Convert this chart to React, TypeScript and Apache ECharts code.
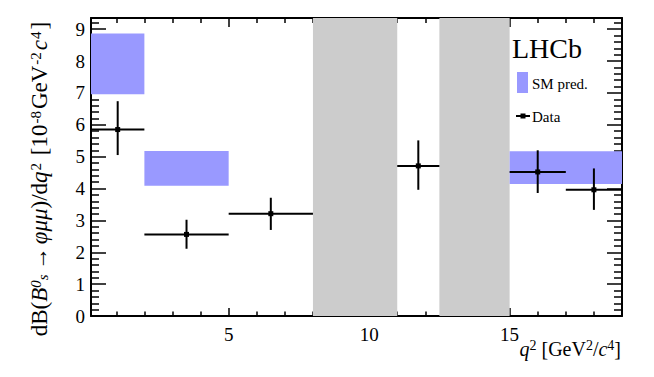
import React, { useEffect, useRef } from "react";
import * as echarts from "echarts";

// ---- data ----
const binLo = [0.1, 2, 5, 11, 15, 17];
const binHi = [2, 5, 8, 12.5, 17, 19];
const binCenter = [1.05, 3.5, 6.5, 11.75, 16, 18];
const dataVal = [5.85, 2.56, 3.21, 4.71, 4.52, 3.96];
const errUp = [0.89, 0.46, 0.5, 0.8, 0.68, 0.67];
const errDown = [0.8, 0.45, 0.51, 0.75, 0.66, 0.63];

const smLo = [0.1, 2, 15];
const smHi = [2, 5, 19];
const smMin = [6.96, 4.09, 4.14];
const smMax = [8.86, 5.18, 5.17];

const vetoLo = [8, 12.5];
const vetoHi = [11, 15];

const xMajorTicks = [5, 10, 15];
const yMajorTicks = [0, 1, 2, 3, 4, 5, 6, 7, 8, 9];

const X_MIN = 0.1;
const X_MAX = 19;
const Y_MIN = 0;
const Y_MAX = 9.35;

const FONT = "'Liberation Serif', 'Times New Roman', serif";

function range(a: number, b: number, step: number): number[] {
  const out: number[] = [];
  for (let v = a; v <= b + 1e-9; v += step) out.push(Math.round(v * 1000) / 1000);
  return out;
}
const xMinorTicks = range(1, 19, 1).filter((v) => v % 5 !== 0);
const yMinorTicks = range(0.2, 9.2, 0.2).filter((v) => Math.abs(v - Math.round(v)) > 1e-6);

const black = "#000";

function xAxisDef(position: "bottom" | "top", ticks: number[], len: number, major: boolean, showLine: boolean) {
  return {
    type: "value",
    position,
    min: X_MIN,
    max: X_MAX,
    axisLine: { show: showLine, onZero: false, lineStyle: { color: black, width: 2 } },
    axisTick: { show: true, inside: true, length: len, customValues: ticks, lineStyle: { color: black, width: 1.5 } },
    axisLabel: {
      show: major && position === "bottom",
      customValues: ticks,
      fontFamily: FONT,
      fontSize: 19,
      color: black,
      margin: 9,
    },
    splitLine: { show: false },
  };
}

function yAxisDef(position: "left" | "right", ticks: number[], len: number, major: boolean, showLine: boolean) {
  return {
    type: "value",
    position,
    min: Y_MIN,
    max: Y_MAX,
    axisLine: { show: showLine, onZero: false, lineStyle: { color: black, width: 2 } },
    axisTick: { show: true, inside: true, length: len, customValues: ticks, lineStyle: { color: black, width: 1.5 } },
    axisLabel: {
      show: major && position === "left",
      customValues: ticks,
      fontFamily: FONT,
      fontSize: 19,
      color: black,
      margin: 6,
    },
    splitLine: { show: false },
  };
}

function makeRich(F: number, S: number, supPad: number[]) {
  return {
    n: { fontFamily: FONT, fontSize: F, lineHeight: 22, verticalAlign: "middle", fill: black, color: black },
    it: { fontFamily: FONT, fontSize: F, fontStyle: "italic", lineHeight: 22, verticalAlign: "middle", fill: black, color: black },
    arr: { fontFamily: FONT, fontSize: F, lineHeight: 22, verticalAlign: "middle", fill: black, color: black, padding: [0, 3, 0, 2] },
    sup: { fontFamily: FONT, fontSize: S, lineHeight: 10, verticalAlign: "top", fill: black, color: black, padding: supPad },
    supi: { fontFamily: FONT, fontSize: S, fontStyle: "italic", lineHeight: 10, verticalAlign: "top", fill: black, color: black },
    sub: { fontFamily: FONT, fontSize: S, fontStyle: "italic", lineHeight: 8, verticalAlign: "bottom", fill: black, color: black, padding: [0, 2, 0, 0] },
  };
}

export default function App() {
  const ref = useRef<HTMLDivElement>(null);

  useEffect(() => {
    if (!ref.current) return;
    const chart = echarts.init(ref.current, null, { renderer: "svg" });

    const vetoData = vetoLo.map((lo, i) => [lo, vetoHi[i]]);
    const smData = smLo.map((lo, i) => [lo, smHi[i], smMin[i], smMax[i]]);
    const pointData = binLo.map((lo, i) => [lo, binHi[i], binCenter[i], dataVal[i], errDown[i], errUp[i]]);

    const option: any = {
      animation: false,
      backgroundColor: "#fff",
      textStyle: { fontFamily: FONT },
      grid: { left: 91, right: 32, top: 18, bottom: 61, containLabel: false },
      xAxis: [
        xAxisDef("bottom", xMajorTicks, 8, true, true),
        xAxisDef("bottom", xMinorTicks, 4.5, false, false),
        xAxisDef("top", xMajorTicks, 9, true, true),
        xAxisDef("top", xMinorTicks, 5, false, false),
      ],
      yAxis: [
        yAxisDef("left", yMajorTicks, 15, true, true),
        yAxisDef("left", yMinorTicks, 8, false, false),
        yAxisDef("right", yMajorTicks, 15, true, true),
        yAxisDef("right", yMinorTicks, 8, false, false),
      ],
      series: [
        {
          type: "custom",
          name: "veto",
          xAxisIndex: 0,
          yAxisIndex: 0,
          z: 1,
          data: vetoData,
          renderItem: (params: any, api: any) => {
            const p0 = api.coord([api.value(0), Y_MAX]);
            const p1 = api.coord([api.value(1), Y_MIN]);
            return {
              type: "rect",
              shape: { x: p0[0], y: p0[1], width: p1[0] - p0[0], height: p1[1] - p0[1] },
              style: { fill: "#cccccc" },
            };
          },
        },
        {
          type: "custom",
          name: "SM pred.",
          xAxisIndex: 0,
          yAxisIndex: 0,
          z: 2,
          data: smData,
          renderItem: (params: any, api: any) => {
            const p0 = api.coord([api.value(0), api.value(3)]);
            const p1 = api.coord([api.value(1), api.value(2)]);
            return {
              type: "rect",
              shape: { x: p0[0], y: p0[1], width: p1[0] - p0[0], height: p1[1] - p0[1] },
              style: { fill: "#9999ff" },
            };
          },
        },
        {
          type: "custom",
          name: "Data",
          xAxisIndex: 0,
          yAxisIndex: 0,
          z: 3,
          data: pointData,
          renderItem: (params: any, api: any) => {
            const lo = api.value(0);
            const hi = api.value(1);
            const xc = api.value(2);
            const y = api.value(3);
            const eDn = api.value(4);
            const eUp = api.value(5);
            const pl = api.coord([lo, y]);
            const pr = api.coord([hi, y]);
            const pc = api.coord([xc, y]);
            const pt = api.coord([xc, y + eUp]);
            const pb = api.coord([xc, y - eDn]);
            const ls = { stroke: black, lineWidth: 2 };
            return {
              type: "group",
              children: [
                { type: "line", shape: { x1: pl[0], y1: pl[1], x2: pr[0], y2: pr[1] }, style: ls },
                { type: "line", shape: { x1: pt[0], y1: pt[1], x2: pb[0], y2: pb[1] }, style: ls },
                { type: "rect", shape: { x: pc[0] - 2.5, y: pc[1] - 2.5, width: 5, height: 5 }, style: { fill: black } },
              ],
            };
          },
        },
      ],
      graphic: [
        {
          type: "text",
          x: 39,
          y: 179,
          rotation: Math.PI / 2,
          style: {
            text:
              "{n|dB(}{it|B}{supi|0}{sub|s}{arr|→}{it|φμμ}{n|)/d}{it|q}{sup|2}{n| [10}{sup|-8}{n|GeV}{sup|-2}{it|c}{sup|4}{n|]}",
            align: "center",
            verticalAlign: "middle",
            fill: black,
            rich: makeRich(23, 15, [0, 2, 0, 1]),
          },
        },
        {
          type: "text",
          x: 621,
          y: 349,
          style: {
            text: "{it|q}{sup|2}{n| [GeV}{sup|2}{n|/}{it|c}{sup|4}{n|]}",
            align: "right",
            verticalAlign: "middle",
            fill: black,
            rich: makeRich(20, 14, [0, 0, 0, 0]),
          },
        },
        {
          type: "text",
          x: 512,
          y: 48,
          style: { text: "LHCb", fontFamily: FONT, fontSize: 28, fill: black, align: "left", verticalAlign: "middle" },
        },
        {
          type: "rect",
          shape: { x: 517, y: 72, width: 11, height: 21 },
          style: { fill: "#9999ff" },
        },
        {
          type: "text",
          x: 532,
          y: 84,
          style: { text: "SM pred.", fontFamily: FONT, fontSize: 15, fill: black, align: "left", verticalAlign: "middle" },
        },
        {
          type: "line",
          shape: { x1: 516, y1: 116, x2: 530, y2: 116 },
          style: { stroke: black, lineWidth: 2 },
        },
        {
          type: "rect",
          shape: { x: 520.5, y: 113.5, width: 5, height: 5 },
          style: { fill: black },
        },
        {
          type: "text",
          x: 532,
          y: 117,
          style: { text: "Data", fontFamily: FONT, fontSize: 15, fill: black, align: "left", verticalAlign: "middle" },
        },
      ],
    };

    chart.setOption(option);
    return () => chart.dispose();
  }, []);

  return (
    <div
      ref={ref}
      style={{ position: "fixed", left: 0, top: 0, width: 654, height: 377, background: "#fff" }}
    />
  );
}
